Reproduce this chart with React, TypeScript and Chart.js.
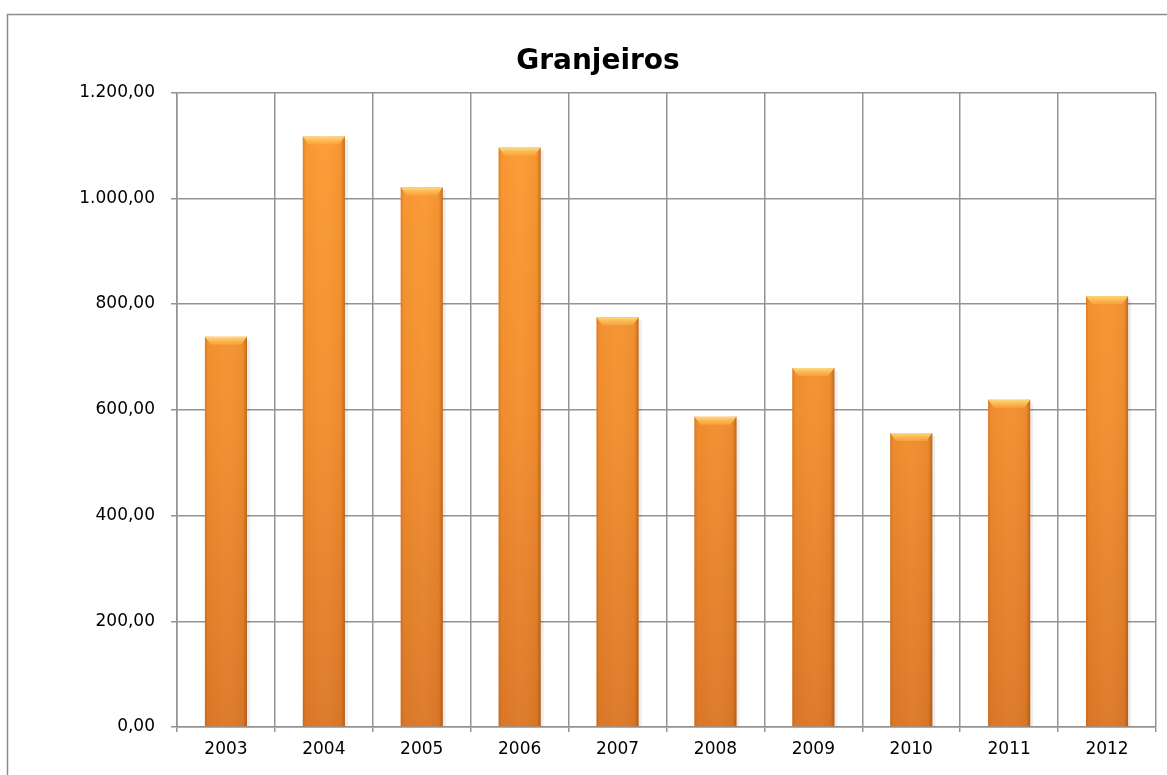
import React, { useEffect, useRef } from "react";
import { Chart, registerables } from "chart.js";

Chart.register(...registerables);

const categories = ["2003", "2004", "2005", "2006", "2007", "2008", "2009", "2010", "2011", "2012"];
const values = [738, 1117, 1021, 1096, 775, 587, 679, 556, 619, 815];
const chartTitle = "Granjeiros";
const yMax = 1200;
const yStep = 200;

const fmt = (v: number) => {
  const fixed = v.toFixed(2);
  const [intPart, dec] = fixed.split(".");
  const withSep = intPart.replace(/\B(?=(\d{3})+(?!\d))/g, ".");
  return withSep + "," + dec;
};

const borderPlugin = {
  id: "outerBorder",
  beforeDraw(chart: any) {
    const ctx = chart.ctx;
    ctx.save();
    ctx.fillStyle = "#ffffff";
    ctx.fillRect(0, 0, chart.width, chart.height);
    ctx.strokeStyle = "#8c8c8c";
    ctx.lineWidth = 1.5;
    ctx.strokeRect(7.5, 14.5, 1300, 900);
    ctx.restore();
  },
};

const bevelPlugin = {
  id: "bevel",
  afterDatasetsDraw(chart: any) {
    const ctx = chart.ctx;
    const meta = chart.getDatasetMeta(0);
    ctx.save();
    meta.data.forEach((bar: any) => {
      const { x, y, base, width } = bar.getProps(["x", "y", "base", "width"], true);
      const left = x - width / 2;
      const right = x + width / 2;
      const h = base - y;
      const hg = ctx.createLinearGradient(left, 0, right, 0);
      hg.addColorStop(0, "rgba(150,70,10,0.3)");
      hg.addColorStop(0.07, "rgba(150,70,10,0.03)");
      hg.addColorStop(0.5, "rgba(255,255,255,0.03)");
      hg.addColorStop(0.9, "rgba(150,70,10,0.06)");
      hg.addColorStop(1, "rgba(120,55,5,0.45)");
      ctx.fillStyle = hg;
      ctx.fillRect(left, y, width, h);
      const bh = 8;
      ctx.beginPath();
      ctx.moveTo(left, y);
      ctx.lineTo(right, y);
      ctx.lineTo(right - 6, y + bh);
      ctx.lineTo(left + 6, y + bh);
      ctx.closePath();
      const tg = ctx.createLinearGradient(0, y, 0, y + bh);
      tg.addColorStop(0, "rgba(255,222,130,0.95)");
      tg.addColorStop(1, "rgba(253,170,64,0.6)");
      ctx.fillStyle = tg;
      ctx.fill();
      ctx.fillStyle = "rgba(0,0,0,0.07)";
      ctx.fillRect(right, y + 3, 3, h - 3);
    });
    ctx.restore();
  },
};

export default function App() {
  const canvasRef = useRef<HTMLCanvasElement | null>(null);

  useEffect(() => {
    if (!canvasRef.current) return;
    const chart = new Chart(canvasRef.current, {
      type: "bar",
      data: {
        labels: categories,
        datasets: [
          {
            data: values,
            backgroundColor: (c: any) => {
              const area = c.chart.chartArea;
              if (!area) return "#F39130";
              const g = c.chart.ctx.createLinearGradient(0, area.top, 0, area.bottom);
              g.addColorStop(0, "#FC9C33");
              g.addColorStop(0.5, "#F28F2F");
              g.addColorStop(1, "#DC7828");
              return g;
            },
            borderWidth: 0,
            barPercentage: 0.43,
            categoryPercentage: 1,
          },
        ],
      },
      options: {
        responsive: false,
        animation: false,
        layout: { padding: { left: 40, right: 11, top: 14, bottom: 0 } },
        plugins: {
          legend: { display: false },
          tooltip: { enabled: false },
          title: {
            display: true,
            text: chartTitle,
            color: "#000000",
            font: { family: "DejaVu Sans", size: 28, weight: "bold", lineHeight: 1.2 },
            padding: { top: 31, bottom: 14 },
          },
        },
        scales: {
          x: {
            grid: {
              color: "#939393",
              lineWidth: 1.5,
              offset: true,
              drawTicks: true,
              tickLength: 5,
            },
            border: { color: "#939393", width: 1.5 },
            ticks: {
              color: "#000000",
              font: { family: "DejaVu Sans", size: 17 },
              padding: 7,
              maxRotation: 0,
            },
            afterFit: (s: any) => {
              s.height = 48;
            },
          },
          y: {
            min: 0,
            max: yMax,
            grid: {
              color: "#939393",
              lineWidth: 1.5,
              drawTicks: true,
              tickLength: 6,
            },
            border: { color: "#939393", width: 1.5 },
            ticks: {
              stepSize: yStep,
              color: "#000000",
              font: { family: "DejaVu Sans", size: 17 },
              padding: 16,
              callback: (v: any) => fmt(Number(v)),
            },
            afterFit: (s: any) => {
              s.width = 137;
            },
          },
        },
      },
      plugins: [borderPlugin, bevelPlugin],
    });
    return () => chart.destroy();
  }, []);

  return (
    <div style={{ position: "fixed", left: 0, top: 0, width: 1167, height: 775 }}>
      <canvas ref={canvasRef} width={1167} height={775} style={{ width: 1167, height: 775 }} />
    </div>
  );
}
